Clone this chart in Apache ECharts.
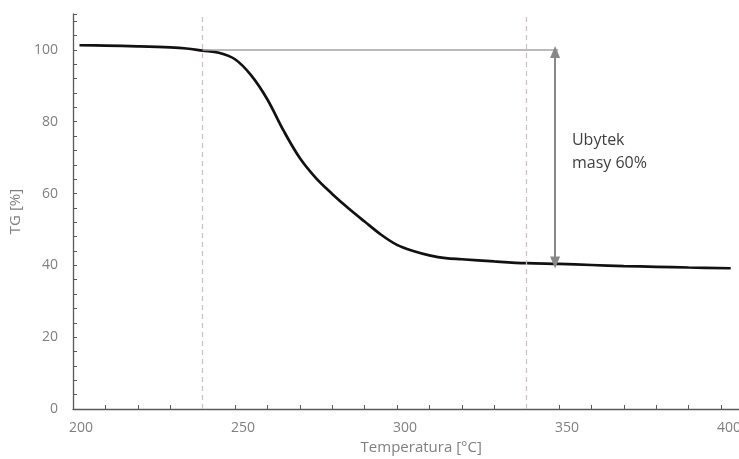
<!DOCTYPE html>
<html>
<head>
<meta charset="utf-8">
<script src="https://cdn.jsdelivr.net/npm/echarts@6/dist/echarts.min.js"></script>
<style>
  html, body { margin: 0; padding: 0; background: #fff; }
  #chart { width: 739px; height: 459px; }
</style>
</head>
<body>
<div id="chart"></div>
<script>
// krzywa TG (temperatura [°C], masa [%])
const temps = [202, 210, 220, 230, 235, 240, 245, 250, 255, 260, 265, 270, 275, 280, 285,
  290, 295, 300, 305, 310, 315, 320, 330, 340, 350, 360, 370, 380, 390, 403];
const tg = [101.3, 101.2, 101.0, 100.7, 100.4, 99.8, 99.2, 97.4, 92.9, 86.2, 77.5, 69.9, 64.3, 59.9, 55.9,
  52.2, 48.6, 45.7, 44.0, 42.8, 42.0, 41.7, 41.1, 40.6, 40.4, 40.1, 39.8, 39.6, 39.4, 39.2];

// linie pomocnicze
const markerTemps = [240, 340];
const levelLine = [240, 349.7, 100];     // od, do, poziom
const arrowLine = [348.8, 99.4, 40.8];   // temperatura, gora, dol
const noteText = ['Ubytek', 'masy 60%'];
const notePos = [354, 71.7];

const xLabels = [200, 250, 300, 350, 400];
const yLabels = [0, 20, 40, 60, 80, 100];

const chart = echarts.init(document.getElementById('chart'));
const axisColor = '#595959';
const labelColor = '#7f7f7f';
const font = '"Open Sans", sans-serif';

const option = {
  animation: false,
  grid: { left: 73, top: 14, width: 680.4, height: 395, outerBoundsMode: 'none', containLabel: false },
  xAxis: {
    type: 'value',
    min: 200, max: 410, interval: 10,
    name: 'Temperatura [°C]',
    nameLocation: 'middle',
    nameGap: 27,
    nameTextStyle: { color: labelColor, fontSize: 15, fontFamily: font, padding: [0, 0, 0, 16] },
    axisLine: { lineStyle: { color: axisColor, width: 1.3 } },
    axisTick: { inside: true, length: 4, lineStyle: { color: axisColor } },
    axisLabel: {
      color: labelColor, fontSize: 14, fontFamily: font, margin: 12,
      padding: [0, 0, 0, 16],
      formatter: v => xLabels.includes(v) ? String(v) : ''
    },
    splitLine: { show: false }
  },
  yAxis: {
    type: 'value',
    min: 0, max: 110, interval: 4,
    name: 'TG [%]',
    nameLocation: 'middle',
    nameGap: 41,
    nameTextStyle: { color: labelColor, fontSize: 15, fontFamily: font },
    axisLine: { show: true, lineStyle: { color: axisColor, width: 1.3 } },
    axisTick: { show: true, inside: true, length: 4, lineStyle: { color: axisColor } },
    axisLabel: {
      color: labelColor, fontSize: 14, fontFamily: font, margin: 15,
      formatter: v => yLabels.includes(v) ? String(v) : ''
    },
    splitLine: { show: false }
  },
  series: [{
    type: 'line',
    data: temps.map((t, i) => [t, tg[i]]),
    smooth: 0.35,
    showSymbol: false,
    lineStyle: { color: '#111', width: 2.7 },
    markLine: {
      silent: true,
      symbol: 'none',
      label: { show: false },
      data: [
        ...markerTemps.map(t => ({
          xAxis: t,
          lineStyle: { color: '#cbbfbf', type: [5, 4], width: 1.2 }
        })),
        [
          { coord: [levelLine[0], levelLine[2]], lineStyle: { color: '#a3a3a3', type: 'solid', width: 1.5 } },
          { coord: [levelLine[1], levelLine[2]] }
        ],
        [
          { coord: [arrowLine[0], arrowLine[1]], symbol: 'triangle', symbolSize: [10, 12],
            lineStyle: { color: '#888', type: 'solid', width: 2 } },
          { coord: [arrowLine[0], arrowLine[2]], symbol: 'triangle', symbolSize: [10, 12] }
        ]
      ]
    },
    markPoint: {
      silent: true,
      symbolSize: 0,
      data: [{
        coord: notePos,
        label: {
          show: true,
          formatter: noteText.join('\n'),
          position: 'right',
          distance: 0,
          align: 'left',
          color: '#404040',
          fontSize: 16,
          lineHeight: 23,
          fontFamily: font
        }
      }]
    }
  }]
};

chart.setOption(option);
</script>
</body>
</html>
